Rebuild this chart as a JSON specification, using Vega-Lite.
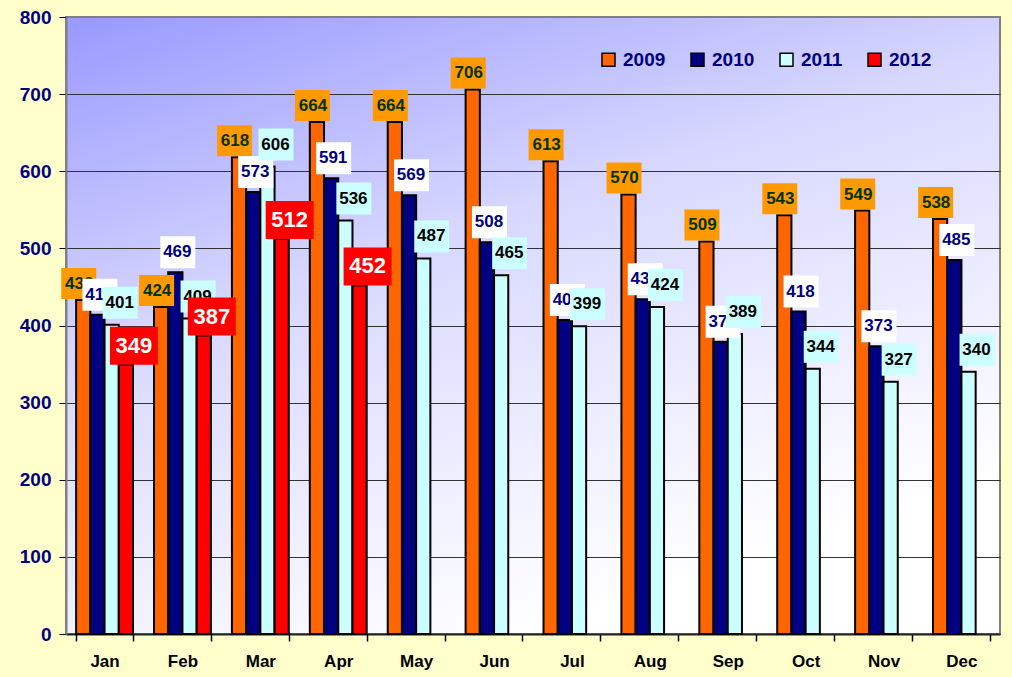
{
  "$schema": "https://vega.github.io/schema/vega-lite/v6.json",
  "width": 934,
  "height": 617,
  "autosize": "none",
  "padding": {"left": 66, "top": 17, "right": 12, "bottom": 43},
  "background": "#FFFFCC",
  "config": {
    "font": "Liberation Sans",
    "view": {
      "fill": {"gradient": "linear", "x1": 0, "y1": 0, "x2": 0.5, "y2": 1,
        "stops": [{"offset": 0, "color": "#9999FF"}, {"offset": 0.45, "color": "#D8D8FF"}, {"offset": 1, "color": "#FFFFFF"}]},
      "stroke": "#808080",
      "strokeWidth": 2
    }
  },
  "data": {"values": [
    {"month": "Jan", "year": "2009", "value": 433},
    {"month": "Jan", "year": "2010", "value": 414},
    {"month": "Jan", "year": "2011", "value": 401},
    {"month": "Jan", "year": "2012", "value": 349},
    {"month": "Feb", "year": "2009", "value": 424},
    {"month": "Feb", "year": "2010", "value": 469},
    {"month": "Feb", "year": "2011", "value": 409},
    {"month": "Feb", "year": "2012", "value": 387},
    {"month": "Mar", "year": "2009", "value": 618},
    {"month": "Mar", "year": "2010", "value": 573},
    {"month": "Mar", "year": "2011", "value": 606},
    {"month": "Mar", "year": "2012", "value": 512},
    {"month": "Apr", "year": "2009", "value": 664},
    {"month": "Apr", "year": "2010", "value": 591},
    {"month": "Apr", "year": "2011", "value": 536},
    {"month": "Apr", "year": "2012", "value": 452},
    {"month": "May", "year": "2009", "value": 664},
    {"month": "May", "year": "2010", "value": 569},
    {"month": "May", "year": "2011", "value": 487},
    {"month": "Jun", "year": "2009", "value": 706},
    {"month": "Jun", "year": "2010", "value": 508},
    {"month": "Jun", "year": "2011", "value": 465},
    {"month": "Jul", "year": "2009", "value": 613},
    {"month": "Jul", "year": "2010", "value": 407},
    {"month": "Jul", "year": "2011", "value": 399},
    {"month": "Aug", "year": "2009", "value": 570},
    {"month": "Aug", "year": "2010", "value": 434},
    {"month": "Aug", "year": "2011", "value": 424},
    {"month": "Sep", "year": "2009", "value": 509},
    {"month": "Sep", "year": "2010", "value": 379},
    {"month": "Sep", "year": "2011", "value": 389},
    {"month": "Oct", "year": "2009", "value": 543},
    {"month": "Oct", "year": "2010", "value": 418},
    {"month": "Oct", "year": "2011", "value": 344},
    {"month": "Nov", "year": "2009", "value": 549},
    {"month": "Nov", "year": "2010", "value": 373},
    {"month": "Nov", "year": "2011", "value": 327},
    {"month": "Dec", "year": "2009", "value": 538},
    {"month": "Dec", "year": "2010", "value": 485},
    {"month": "Dec", "year": "2011", "value": 340}
  ]},
  "encoding": {
    "x": {
      "field": "month", "type": "nominal",
      "sort": ["Jan", "Feb", "Mar", "Apr", "May", "Jun", "Jul", "Aug", "Sep", "Oct", "Nov", "Dec"],
      "scale": {"paddingInner": 0.27, "paddingOuter": 0.13},
      "axis": {
        "title": null, "labelAngle": 0, "tickBand": "extent",
        "labelFont": "Liberation Sans", "labelFontSize": 17, "labelFontWeight": "bold", "labelColor": "#000000",
        "labelPadding": 12, "tickSize": 7, "tickColor": "#000000", "tickWidth": 1.5,
        "domainColor": "#222222", "domainWidth": 2
      }
    },
    "xOffset": {"field": "year", "type": "nominal", "scale": {"domain": ["2009", "2010", "2011", "2012"], "paddingInner": 0}},
    "y": {
      "field": "value", "type": "quantitative",
      "scale": {"domain": [0, 800]},
      "axis": {
        "title": null, "values": [0, 100, 200, 300, 400, 500, 600, 700, 800],
        "grid": true,
        "gridColor": {"condition": {"test": "datum.value == 800", "value": "#808080"}, "value": "#333333"},
        "gridWidth": 1,
        "labelFont": "Liberation Sans", "labelFontSize": 19, "labelFontWeight": "bold", "labelColor": "#000080",
        "labelPadding": 8, "tickSize": 7, "tickColor": "#000000",
        "domainColor": "#808080", "domainWidth": 2
      }
    }
  },
  "layer": [
    {
      "mark": {"type": "bar", "stroke": "#000000", "strokeWidth": 2},
      "encoding": {
        "color": {
          "field": "year", "type": "nominal",
          "scale": {"domain": ["2009", "2010", "2011", "2012"], "range": ["#FF6600", "#000080", "#CCFFFF", "#FF0000"]},
          "legend": {
            "title": null, "orient": "none", "legendX": 533, "legendY": 33, "direction": "horizontal",
            "symbolType": "square", "symbolSize": 169, "symbolStrokeColor": "#000000", "symbolStrokeWidth": 1.5,
            "symbolOpacity": 1,
            "labelFont": "Liberation Sans", "labelFontSize": 19, "labelFontWeight": "bold", "labelColor": "#000080",
            "labelOffset": 5, "columnPadding": 22
          }
        }
      }
    },
    {
      "transform": [{"filter": "datum.year == '2009'"}],
      "mark": {"type": "point", "shape": "M-22,-32L13,-32L13,-1L-22,-1Z", "size": 4, "filled": true, "fill": "#FF9900", "strokeWidth": 0, "opacity": 1}
    },
    {
      "transform": [{"filter": "datum.year == '2009'"}],
      "mark": {"type": "text", "dx": -4, "dy": -16, "baseline": "middle", "fontSize": 17, "fontWeight": "bold", "color": "#003300", "font": "Liberation Sans"},
      "encoding": {"text": {"field": "value", "type": "quantitative"}}
    },
    {
      "transform": [{"filter": "datum.year == '2010'"}],
      "mark": {"type": "point", "shape": "M-15,-36L20,-36L20,-4L-15,-4Z", "size": 4, "filled": true, "fill": "#FFFFFF", "strokeWidth": 0, "opacity": 1}
    },
    {
      "transform": [{"filter": "datum.year == '2010'"}],
      "mark": {"type": "text", "dx": 2, "dy": -20, "baseline": "middle", "fontSize": 17, "fontWeight": "bold", "color": "#000080", "font": "Liberation Sans"},
      "encoding": {"text": {"field": "value", "type": "quantitative"}}
    },
    {
      "transform": [{"filter": "datum.year == '2011'"}],
      "mark": {"type": "point", "shape": "M-9,-38L26,-38L26,-6L-9,-6Z", "size": 4, "filled": true, "fill": "#CCFFFF", "strokeWidth": 0, "opacity": 1}
    },
    {
      "transform": [{"filter": "datum.year == '2011'"}],
      "mark": {"type": "text", "dx": 8, "dy": -22, "baseline": "middle", "fontSize": 17, "fontWeight": "bold", "color": "#000000", "font": "Liberation Sans"},
      "encoding": {"text": {"field": "value", "type": "quantitative"}}
    },
    {
      "transform": [{"filter": "datum.year == '2012'"}],
      "mark": {"type": "point", "shape": "M-16,-38L32,-38L32,0L-16,0Z", "size": 4, "filled": true, "fill": "#FF0000", "strokeWidth": 0, "opacity": 1}
    },
    {
      "transform": [{"filter": "datum.year == '2012'"}],
      "mark": {"type": "text", "dx": 8, "dy": -19, "baseline": "middle", "fontSize": 22, "fontWeight": "bold", "color": "#FFFFFF", "font": "Liberation Sans"},
      "encoding": {"text": {"field": "value", "type": "quantitative"}}
    }
  ]
}
